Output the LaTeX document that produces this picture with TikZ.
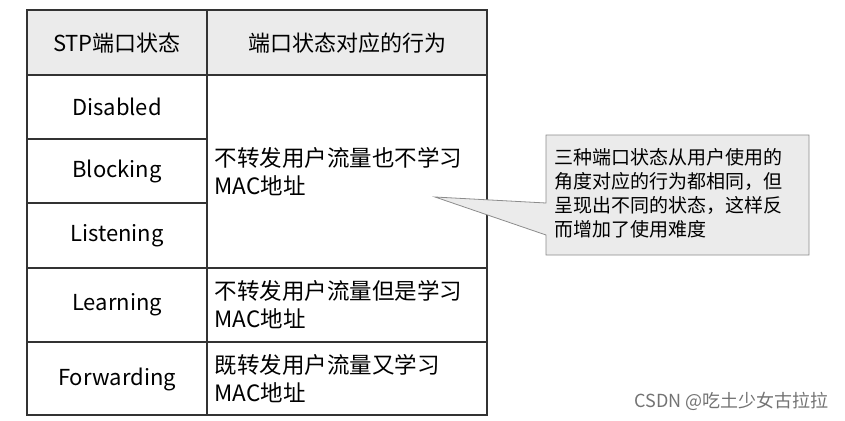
\documentclass[tikz,border=0pt]{standalone}
\usepackage{fontspec}
\setmainfont{Noto Sans CJK SC}
\begin{document}
\begin{tikzpicture}[x=1pt,y=-1pt,
  cell/.style={font=\fontsize{22}{27}\selectfont},
  act/.style={font=\fontsize{22.5}{28}\selectfont,align=left,anchor=west},
  tab/.style={draw=black!80,line width=1.2pt}]
\useasboundingbox (0,0) rectangle (845,420);
\fill[black!8] (27,10) rectangle (487,75);
\draw[tab] (27,10) rectangle (487,415);
\draw[tab] (207,10) -- (207,415);
\draw[tab] (27,75) -- (487,75);
\draw[tab] (27,139) -- (207,139);
\draw[tab] (27,203) -- (207,203);
\draw[tab] (27,268) -- (487,268);
\draw[tab] (27,342) -- (487,342);
\node[cell] (h1) at (117,43) {STP端口状态};
\node[cell] (h2) at (347,43) {端口状态对应的行为};
\node[cell] (s1) at (117,107) {Disabled};
\node[cell] (s2) at (117,171) {Blocking};
\node[cell] (s3) at (117,236) {Listening};
\node[cell] (s4) at (117,305) {Learning};
\node[cell] (s5) at (117,379) {Forwarding};
\node[act] (a1) at (211,172) {不转发用户流量也不学习\\MAC地址};
\node[act] (a2) at (211,305) {不转发用户流量但是学习\\MAC地址};
\node[act] (a3) at (211,379) {既转发用户流量又学习\\MAC地址};
\fill[black!8,draw=black!45,line width=0.8pt] (546,135) -- (809,135) -- (809,255) -- (546,255) -- (546,235) -- (435,197) -- (546,203) -- cycle;
\node[font=\fontsize{19}{24}\selectfont,align=left,anchor=north west,inner sep=0pt] (c) at (554,148) {三种端口状态从用户使用的\\角度对应的行为都相同，但\\呈现出不同的状态，这样反\\而增加了使用难度};
\node[font=\fontsize{18}{20}\selectfont,text=black!55,anchor=east] (w) at (832,401) {CSDN @吃土少女古拉拉};
\end{tikzpicture}
\end{document}
